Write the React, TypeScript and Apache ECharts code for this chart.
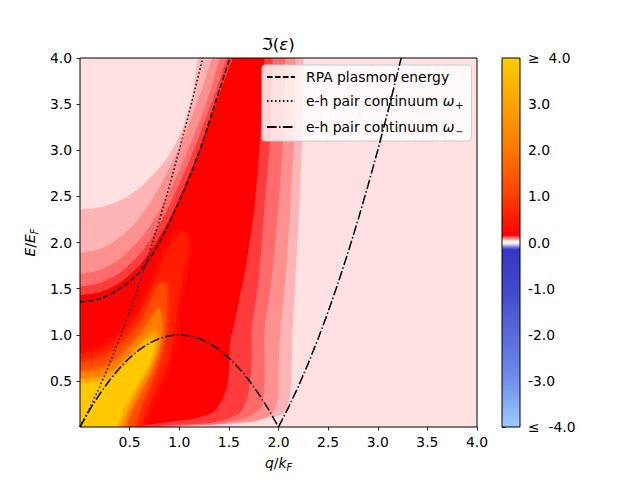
import React, { useEffect, useRef } from 'react';
import * as echarts from 'echarts';

const FONT = 'DejaVu Sans';

// ---------- axis ticks ----------
const xTickValues = [0.5, 1.0, 1.5, 2.0, 2.5, 3.0, 3.5, 4.0];
const yTickValues = [0.5, 1.0, 1.5, 2.0, 2.5, 3.0, 3.5, 4.0];
const colorbarTickValues = [-4, -3, -2, -1, 0, 1, 2, 3, 4];

// ---------- curves (q/kF, E/EF) ----------
const plasmonEnergy = [
  [0, 1.355], [0.2, 1.39], [0.4, 1.5], [0.6, 1.68], [0.8, 2.0], [1.0, 2.45],
  [1.2, 2.98], [1.35, 3.47], [1.51, 4.0],
];
const omegaPlus = [
  [0, 0], [0.1, 0.21], [0.2, 0.44], [0.3, 0.69], [0.4, 0.96], [0.5, 1.25],
  [0.6, 1.56], [0.7, 1.89], [0.8, 2.24], [0.9, 2.61], [1.0, 3.0], [1.1, 3.41],
  [1.2, 3.84], [1.236, 4.0],
];
const omegaMinusLeft = [
  [0, 0], [0.1, 0.19], [0.2, 0.36], [0.3, 0.51], [0.4, 0.64], [0.5, 0.75],
  [0.6, 0.84], [0.7, 0.91], [0.8, 0.96], [0.9, 0.99], [1.0, 1.0], [1.1, 0.99],
  [1.2, 0.96], [1.3, 0.91], [1.4, 0.84], [1.5, 0.75], [1.6, 0.64], [1.7, 0.51],
  [1.8, 0.36], [1.9, 0.19], [2.0, 0.0],
];
const omegaMinusRight = [
  [2.0, 0.0], [2.1, 0.21], [2.2, 0.44], [2.3, 0.69], [2.4, 0.96], [2.5, 1.25],
  [2.6, 1.56], [2.7, 1.89], [2.8, 2.24], [2.9, 2.61], [3.0, 3.0], [3.1, 3.41],
  [3.2, 3.84], [3.236, 4.0],
];

// ---------- contour bands (boundaries) ----------
const level1Upper = [[0, 2.36], [0.2, 2.38], [0.35, 2.43], [0.48, 2.5], [0.64, 2.63], [0.81, 2.82], [0.94, 3.02], [1.04, 3.25], [1.13, 3.58], [1.19, 4.0]];
const level1Right = [[2.25, 4.0], [2.24, 3.2], [2.21, 2.4], [2.17, 1.6], [2.14, 1.0], [2.13, 0.5], [2.11, 0.3], [2.08, 0.17], [2.0, 0.12]];
const level1Bottom = [[1.9, 0.1], [1.8, 0.08], [1.6, 0.05], [1.3, 0.025], [1.0, 0.01], [0.8, 0]];

const level2Upper = [[0, 1.89], [0.2, 1.93], [0.37, 2.03], [0.55, 2.2], [0.7, 2.42], [0.85, 2.7], [1.0, 3.02], [1.12, 3.35], [1.23, 3.67], [1.33, 4.0]];
const level2Right = [[2.17, 4.0], [2.16, 3.2], [2.12, 2.4], [2.07, 1.6], [2.02, 1.05], [2.0, 0.6], [2.0, 0.33], [1.96, 0.18], [1.9, 0.12]];
const level2Bottom = [[1.76, 0.06], [1.55, 0.04], [1.3, 0.02], [1.0, 0]];

const level3Upper = [[0, 1.66], [0.2, 1.7], [0.4, 1.82], [0.6, 2.03], [0.75, 2.25], [0.9, 2.55], [1.05, 2.9], [1.2, 3.3], [1.3, 3.6], [1.41, 4.0]];
const level3Right = [[2.07, 4.0], [2.05, 3.2], [2.0, 2.4], [1.93, 1.6], [1.86, 1.05], [1.86, 0.5], [1.83, 0.22], [1.68, 0.1]];
const level3Bottom = [[1.41, 0.035], [1.1, 0.015], [0.9, 0]];

const level4Upper = [[0, 1.52], [0.2, 1.56], [0.4, 1.67], [0.6, 1.87], [0.75, 2.1], [0.9, 2.4], [1.05, 2.75], [1.2, 3.15], [1.35, 3.58], [1.48, 4.0]];
const level4Right = [[1.94, 4.0], [1.92, 3.2], [1.86, 2.4], [1.8, 1.6], [1.73, 1.05], [1.73, 0.69], [1.69, 0.33], [1.61, 0.15]];
const level4Bottom = [[1.34, 0.05], [1.0, 0.025], [0.8, 0]];

const level5Upper = [[0, 1.43], [0.2, 1.46], [0.4, 1.56], [0.6, 1.75], [0.75, 1.97], [0.9, 2.25], [1.05, 2.6], [1.2, 3.0], [1.35, 3.45], [1.54, 4.0]];
const level5Right = [[1.86, 4.0], [1.82, 3.2], [1.76, 2.4], [1.68, 1.8], [1.57, 1.2], [1.51, 0.9], [1.5, 0.6], [1.48, 0.43], [1.42, 0.27], [1.34, 0.16]];
const level5Bottom = [[1.15, 0.09], [1.0, 0.07], [0.8, 0.04], [0.6, 0.015], [0.45, 0]];

// inner (hot) regions: boundary from left edge, over the ridge, down to the q axis
const hot1 = [[0, 0.8], [0.2, 0.84], [0.4, 1.0], [0.55, 1.18], [0.65, 1.36], [0.75, 1.6], [0.85, 1.85], [0.95, 2.05], [1.05, 2.12], [1.1, 2.0], [1.05, 1.7], [0.99, 1.35], [0.95, 1.0], [0.9, 0.72], [0.8, 0.45], [0.7, 0.22], [0.62, 0]];
const hot2 = [[0, 0.7], [0.2, 0.74], [0.35, 0.84], [0.5, 0.99], [0.62, 1.16], [0.72, 1.38], [0.8, 1.55], [0.87, 1.56], [0.88, 1.28], [0.86, 1.0], [0.81, 0.75], [0.73, 0.5], [0.63, 0.25], [0.56, 0]];
const hot3 = [[0, 0.6], [0.2, 0.63], [0.35, 0.71], [0.5, 0.87], [0.62, 1.02], [0.72, 1.18], [0.8, 1.3], [0.83, 1.05], [0.79, 0.8], [0.71, 0.58], [0.61, 0.36], [0.51, 0.16], [0.46, 0]];
const hot4 = [[0, 0.52], [0.2, 0.54], [0.34, 0.61], [0.48, 0.75], [0.6, 0.89], [0.7, 1.0], [0.77, 1.04], [0.78, 0.88], [0.72, 0.7], [0.63, 0.5], [0.53, 0.3], [0.46, 0.12], [0.41, 0]];
const hot5 = [[0, 0.465], [0.2, 0.485], [0.336, 0.545], [0.47, 0.68], [0.571, 0.805], [0.672, 0.912], [0.722, 0.955], [0.75, 0.92], [0.705, 0.69], [0.605, 0.51], [0.504, 0.33], [0.42, 0.15], [0.37, 0]];

// colour bar stops (value -> colour)
const colorbarStopValues = [4, 3, 2, 1, 0.16, 0.12, 0.08, 0.04, 0, -0.04, -0.08, -0.12, -0.16, -1, -2, -3, -4];
const colorbarStopColors = ['#FFCC00', '#FFA300', '#FF7800', '#FF3E00', '#FF0000', '#FF4A4A', '#FF9A9A', '#FFDADA', '#FFFFFF', '#DADAF4', '#9A9ADE', '#5A5ACE', '#3636C8', '#4048CC', '#5A6ADA', '#7090EA', '#9CCCFF'];

const backgroundColor = '#FFE1E1';
const bandColors = ['#FFB5B5', '#FF9090', '#FF6A6A', '#FF3B3B', '#FF0000'];
const hotColors = ['#FF1C00', '#FF4A00', '#FF7C00', '#FFA600', '#FFC800'];

function bandPolygon(upper: number[][], right: number[][], bottom: number[][]) {
  const ut = upper[upper.length - 1];
  const up = upper[upper.length - 2];
  const rt = right[0];
  const bl = bottom[bottom.length - 1];
  const k = 0.4 / Math.max(0.05, ut[1] - up[1]);
  return [
    [-0.4, -0.4],
    [-0.4, upper[0][1]],
    ...upper,
    [ut[0] + (ut[0] - up[0]) * k, 4.4],
    [rt[0], 4.4],
    ...right,
    ...bottom,
    [bl[0] - 0.1, -0.4],
  ];
}

function hotPolygon(b: number[][]) {
  const last = b[b.length - 1];
  return [[-0.4, -0.4], [-0.4, b[0][1]], ...b, [last[0] - 0.05, -0.4]];
}

export default function App() {
  const ref = useRef<HTMLDivElement>(null);
  useEffect(() => {
    if (!ref.current) return;
    const chart = echarts.init(ref.current, null, { renderer: 'svg' });

    const polygons = [
      { pts: bandPolygon(level1Upper, level1Right, level1Bottom), color: bandColors[0], blur: 0 },
      { pts: bandPolygon(level2Upper, level2Right, level2Bottom), color: bandColors[1], blur: 0 },
      { pts: bandPolygon(level3Upper, level3Right, level3Bottom), color: bandColors[2], blur: 0 },
      { pts: bandPolygon(level4Upper, level4Right, level4Bottom), color: bandColors[3], blur: 0 },
      { pts: bandPolygon(level5Upper, level5Right, level5Bottom), color: bandColors[4], blur: 0 },
      { pts: hotPolygon(hot1), color: hotColors[0], blur: 10 },
      { pts: hotPolygon(hot2), color: hotColors[1], blur: 8 },
      { pts: hotPolygon(hot3), color: hotColors[2], blur: 6 },
      { pts: hotPolygon(hot4), color: hotColors[3], blur: 5 },
      { pts: hotPolygon(hot5), color: hotColors[4], blur: 4 },
    ];

    const polySeries = polygons.map((p, i) => ({
      type: 'custom',
      xAxisIndex: 0,
      yAxisIndex: 0,
      silent: true,
      z: 1 + i * 0.01,
      data: [[0, 0]],
      renderItem: (params: any, api: any) => {
        const cs = params.coordSys;
        const style: any = { fill: p.color, stroke: null };
        if (p.blur) {
          style.shadowBlur = p.blur;
          style.shadowColor = p.color;
        }
        return {
          type: 'polygon',
          shape: { points: p.pts.map((pt) => api.coord(pt)), smooth: 0.2 },
          style,
          clipPath: { type: 'rect', shape: { x: cs.x, y: cs.y, width: cs.width, height: cs.height } },
        };
      },
    }));

    const gradStops = colorbarStopValues.map((v, i) => ({ offset: (4 - v) / 8, color: colorbarStopColors[i] }));

    const colorbarSeries = {
      type: 'custom',
      xAxisIndex: 1,
      yAxisIndex: 1,
      silent: true,
      data: [[0, 0]],
      renderItem: (params: any, api: any) => {
        const p0 = api.coord([0, 4]);
        const p1 = api.coord([1, -4]);
        return {
          type: 'rect',
          shape: { x: p0[0], y: p0[1], width: p1[0] - p0[0], height: p1[1] - p0[1] },
          style: { fill: new echarts.graphic.LinearGradient(0, 0, 0, 1, gradStops) },
        };
      },
    };

    const lineBase = { type: 'line', symbol: 'none', showSymbol: false, xAxisIndex: 0, yAxisIndex: 0, z: 5, silent: true, itemStyle: { color: '#000', opacity: 0 } };
    const nameP = 'RPA plasmon energy';
    const nameW1 = 'e-h pair continuum ω+';
    const nameW2 = 'e-h pair continuum ω-';

    const baseText = { fontFamily: FONT, fontSize: 13.9, color: '#000' };
    const tick = { show: true, length: 3.5, lineStyle: { color: '#000', width: 0.8 } };

    const option: any = {
      animation: false,
      backgroundColor: '#ffffff',
      textStyle: { fontFamily: FONT },
      title: {
        text: '{f|ℑ}{p|(}{e|ε}{p|)}',
        left: 278,
        top: 35,
        textAlign: 'center',
        padding: 0,
        textStyle: {
          fontFamily: FONT,
          fontSize: 16.7,
          fontWeight: 'normal',
          color: '#000',
          rich: {
            f: { fontFamily: FONT, fontSize: 16.7, color: '#000' },
            p: { fontFamily: FONT, fontSize: 16.7, color: '#000' },
            e: { fontFamily: FONT, fontSize: 16.7, fontStyle: 'italic', color: '#000' },
          },
        },
      },
      legend: {
        orient: 'vertical',
        left: 262,
        top: 65,
        padding: [5, 8, 5, 4],
        itemGap: 10,
        itemWidth: 28,
        itemHeight: 14,
        selectedMode: false,
        backgroundColor: 'rgba(255,255,255,0.8)',
        borderColor: '#cccccc',
        borderWidth: 1,
        borderRadius: 3,
        itemStyle: { opacity: 0 },
        data: [nameP, nameW1, nameW2],
        formatter: (n: string) => {
          if (n === nameW1) return '{t|e-h pair continuum }{w|ω}{s|+}';
          if (n === nameW2) return '{t|e-h pair continuum }{w|ω}{s|−}';
          return '{t|RPA plasmon energy}';
        },
        textStyle: {
          ...baseText,
          rich: {
            t: { ...baseText, padding: [0, 0, 0, 6], verticalAlign: 'middle' },
            w: { ...baseText, fontStyle: 'italic', verticalAlign: 'middle' },
            s: { ...baseText, fontSize: 9.7, padding: [8, 0, 0, 1], verticalAlign: 'middle' },
          },
        },
      },
      grid: [
        { left: 80, top: 58, width: 397, height: 369, show: true, backgroundColor, borderWidth: 0 },
        { left: 502, top: 58, width: 18, height: 369, show: false },
      ],
      xAxis: [
        {
          type: 'value', gridIndex: 0, min: 0, max: 4, interval: 0.5,
          splitLine: { show: false },
          axisLine: { show: false },
          axisTick: { ...tick, customValues: xTickValues },
          axisLabel: { ...baseText, margin: 8, customValues: xTickValues, formatter: (v: number) => v.toFixed(1) },
          name: '{i|q}{n|/}{i|k}{s|F}',
          nameLocation: 'middle',
          nameGap: 27,
          nameTextStyle: {
            ...baseText,
            rich: {
              i: { ...baseText, fontStyle: 'italic', verticalAlign: 'middle' },
              n: { ...baseText, verticalAlign: 'middle' },
              s: { ...baseText, fontSize: 9.7, fontStyle: 'italic', padding: [8, 0, 0, 0], verticalAlign: 'middle' },
            },
          },
        },
        { type: 'value', gridIndex: 1, min: 0, max: 1, show: false },
      ],
      yAxis: [
        {
          type: 'value', gridIndex: 0, min: 0, max: 4, interval: 0.5,
          splitLine: { show: false },
          axisLine: { show: false },
          axisTick: { ...tick, customValues: yTickValues },
          axisLabel: { ...baseText, margin: 8, customValues: yTickValues, formatter: (v: number) => v.toFixed(1) },
          name: '{i|E}{n|/}{i|E}{s|F}',
          nameLocation: 'middle',
          nameRotate: 90,
          nameGap: 38,
          nameTextStyle: {
            ...baseText,
            rich: {
              i: { ...baseText, fontStyle: 'italic', verticalAlign: 'middle' },
              n: { ...baseText, verticalAlign: 'middle' },
              s: { ...baseText, fontSize: 9.7, fontStyle: 'italic', padding: [8, 0, 0, 0], verticalAlign: 'middle' },
            },
          },
        },
        {
          type: 'value', gridIndex: 1, min: -4, max: 4, interval: 1, position: 'right',
          splitLine: { show: false },
          axisLine: { show: false },
          axisTick: { ...tick, customValues: colorbarTickValues },
          axisLabel: {
            ...baseText, margin: 8, customValues: colorbarTickValues,
            formatter: (v: number) => (v >= 4 ? '≥  4.0' : v <= -4 ? '≤  -4.0' : v.toFixed(1)),
          },
        },
      ],
      graphic: [
        { type: 'rect', z: 100, silent: true, shape: { x: 80, y: 58, width: 397, height: 369 }, style: { fill: 'none', stroke: '#000', lineWidth: 1 } },
        { type: 'rect', z: 100, silent: true, shape: { x: 502, y: 58, width: 18, height: 369 }, style: { fill: 'none', stroke: '#000', lineWidth: 1 } },
      ],
      series: [
        ...polySeries,
        colorbarSeries,
        { ...lineBase, name: nameP, data: plasmonEnergy, smooth: 0.3, lineStyle: { color: '#000', width: 1.5, type: [5.55, 2.4] } },
        { ...lineBase, name: nameW1, data: omegaPlus, lineStyle: { color: '#000', width: 1.5, type: [1.5, 2.475] } },
        { ...lineBase, name: nameW2, data: omegaMinusLeft, lineStyle: { color: '#000', width: 1.5, type: [9.6, 2.4, 1.5, 2.4] } },
        { ...lineBase, name: nameW2, data: omegaMinusRight, lineStyle: { color: '#000', width: 1.5, type: [9.6, 2.4, 1.5, 2.4] } },
      ],
    };
    chart.setOption(option);
    return () => chart.dispose();
  }, []);
  return (
    <div
      ref={ref}
      style={{ position: 'fixed', left: 0, top: 0, width: 640, height: 480, background: '#fff' }}
    />
  );
}
